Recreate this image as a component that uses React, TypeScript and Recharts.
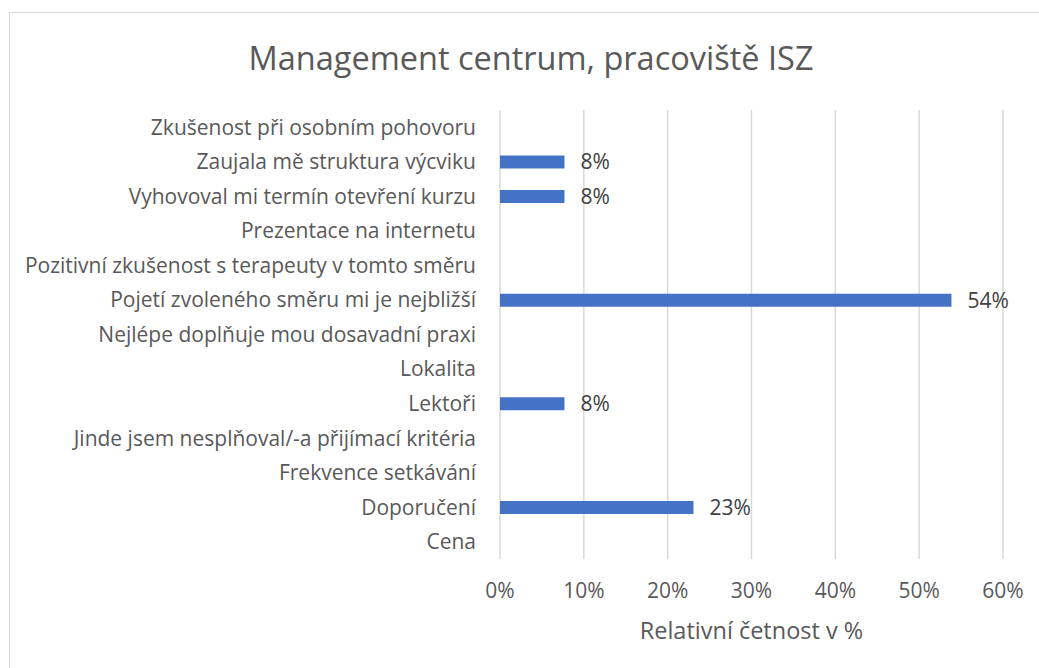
import React from 'react';
import { BarChart, Bar, XAxis, YAxis, CartesianGrid, LabelList } from 'recharts';

// categories listed top to bottom, as in the chart
const categories: string[] = [
  'Zkušenost při osobním pohovoru',
  'Zaujala mě struktura výcviku',
  'Vyhovoval mi termín otevření kurzu',
  'Prezentace na internetu',
  'Pozitivní zkušenost s terapeuty v tomto směru',
  'Pojetí zvoleného směru mi je nejbližší',
  'Nejlépe doplňuje mou dosavadní praxi',
  'Lokalita',
  'Lektoři',
  'Jinde jsem nesplňoval/-a přijímací kritéria',
  'Frekvence setkávání',
  'Doporučení',
  'Cena',
];

// relative frequency in %
const shares: number[] = [0, 7.69, 7.69, 0, 0, 53.85, 0, 0, 7.69, 0, 0, 23.08, 0];

const xTicks: number[] = [0, 10, 20, 30, 40, 50, 60];

const data = categories.map((name, i) => ({ name, value: shares[i] }));

const FONT = '"Open Sans", sans-serif';
const TEXT = '#595959';

const pct = (v: any) => (v ? `${Math.round(Number(v))}%` : '');

export default function App() {
  return (
    <div style={styles.page}>
      <div style={styles.frame} />
      <div style={styles.title}>Management centrum, pracoviště ISZ</div>
      <div style={{ position: 'absolute', left: 0, top: 0 }}>
        <BarChart
          width={1039}
          height={668}
          data={data}
          layout="vertical"
          margin={{ top: 110, right: 36, bottom: 79, left: 0 }}
        >
          <CartesianGrid horizontal={false} stroke="#d9d9d9" strokeWidth={1.5} />
          <XAxis
            type="number"
            domain={[0, 60]}
            ticks={xTicks}
            tickFormatter={(v: number) => `${v}%`}
            axisLine={false}
            tickLine={false}
            tickSize={0}
            tickMargin={24}
            height={30}
            tick={{ fill: TEXT, fontSize: 21, fontFamily: FONT }}
            label={{
              value: 'Relativní četnost v %',
              position: 'bottom',
              offset: 33,
              style: { fill: TEXT, fontSize: 23.5, fontFamily: FONT },
            }}
          />
          <YAxis
            type="category"
            dataKey="name"
            width={500}
            interval={0}
            axisLine={false}
            tickLine={false}
            tickSize={0}
            tickMargin={24}
            tick={{ fill: TEXT, fontSize: 21, fontFamily: FONT }}
          />
          <Bar dataKey="value" fill="#4472C4" barSize={13} isAnimationActive={false}>
            <LabelList
              dataKey="value"
              position="right"
              offset={16}
              formatter={pct}
              fill="#404040"
              fontSize={21}
              fontFamily={FONT}
            />
          </Bar>
        </BarChart>
      </div>
    </div>
  );
}

const styles: Record<string, React.CSSProperties> = {
  page: {
    position: 'absolute',
    left: 0,
    top: 0,
    width: 1039,
    height: 668,
    overflow: 'hidden',
    background: '#fff',
  },
  frame: {
    position: 'absolute',
    left: 9,
    top: 12,
    width: 1100,
    height: 720,
    border: '1.5px solid #d9d9d9',
  },
  title: {
    position: 'absolute',
    left: 0,
    top: 36,
    width: 1062,
    textAlign: 'center',
    color: TEXT,
    fontSize: 32.5,
    fontFamily: FONT,
    lineHeight: '44px',
  },
};
